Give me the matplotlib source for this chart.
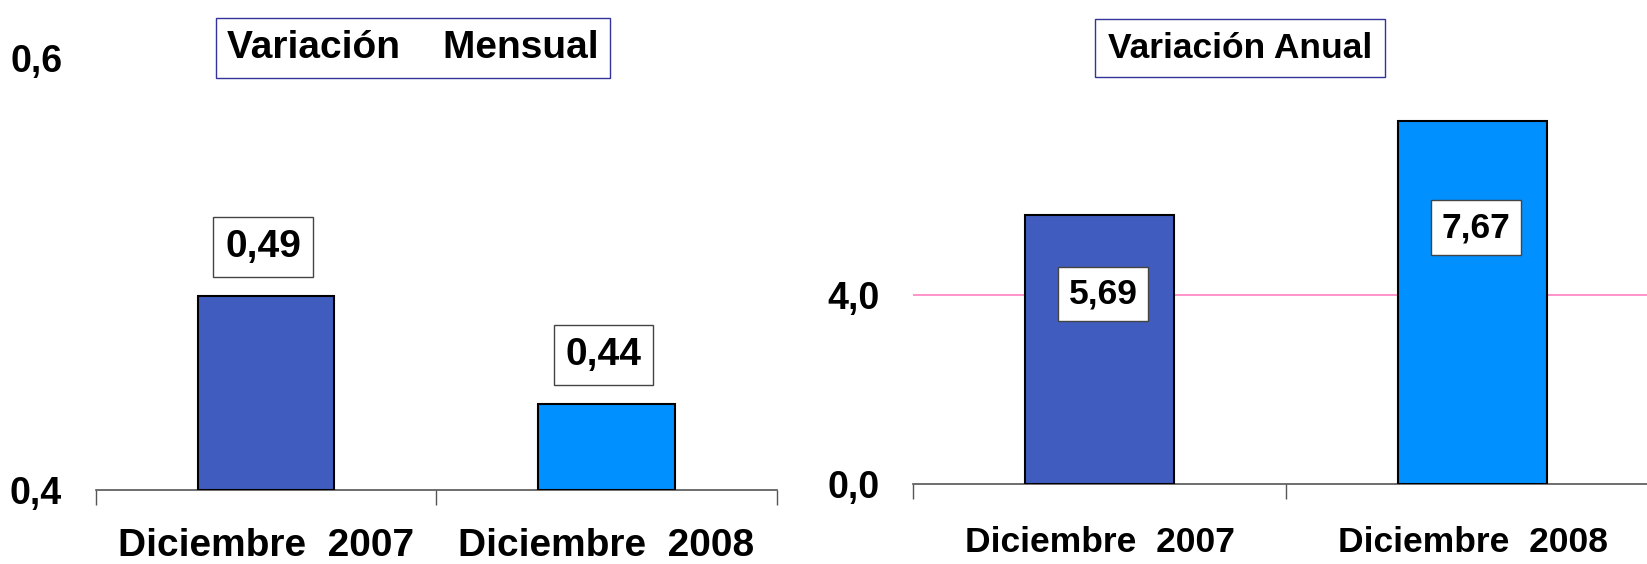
import matplotlib.pyplot as plt

plt.rcParams['font.family'] = ['Liberation Sans', 'DejaVu Sans']
plt.rcParams['font.weight'] = 'bold'

categories = ["Diciembre  2007", "Diciembre  2008"]
mensual = [0.49, 0.44]
anual = [5.69, 7.67]
mensual_labels = ["0,49", "0,44"]
anual_labels = ["5,69", "7,67"]
bar_colors = ["#405CBF", "#0090FF"]

FS_L = 28    # left chart text size
FS_R = 25.5  # right chart text size

fig = plt.figure(figsize=(16.47, 5.64), dpi=100)

ax1 = fig.add_axes([0.058, 0.1312, 0.4137, 0.766])
ax2 = fig.add_axes([0.5543, 0.1418, 0.453, 0.6667])


def style_axis(ax, ylim, yticks, ylabels, fs, xpad):
    ax.set_xlim(-0.5, 1.5)
    ax.set_ylim(*ylim)
    for s in ["left", "right", "top"]:
        ax.spines[s].set_visible(False)
    ax.spines["bottom"].set_color("#555555")
    ax.spines["bottom"].set_linewidth(1.2)
    ax.set_yticks(yticks)
    ax.set_yticklabels(ylabels, fontsize=27, fontweight="bold")
    ax.tick_params(axis="y", length=0, pad=24)
    # category boundary ticks
    ax.set_xticks([-0.5, 0.5, 1.5])
    ax.set_xticklabels([])
    ax.set_xticks([0, 1], minor=True)
    ax.set_xticklabels(categories, minor=True, fontsize=fs, fontweight="bold")
    ax.tick_params(axis="x", which="major", length=11, color="#555555", width=1)
    ax.tick_params(axis="x", which="minor", length=0, pad=xpad)


box = dict(boxstyle="square,pad=0.3", facecolor="white", edgecolor="#444444", linewidth=1)

# --- Variación Mensual ---
style_axis(ax1, (0.4, 0.6), [0.4, 0.6], ["0,4", "0,6"], FS_L, 27)
ax1.bar([0, 1], [v - 0.4 for v in mensual], bottom=0.4, width=0.4,
        color=bar_colors, edgecolor="black", linewidth=1.5, zorder=3)
for i, (v, lab) in enumerate(zip(mensual, mensual_labels)):
    ax1.annotate(lab, (i, v), xytext=(-2, 35), textcoords="offset points",
                 ha="center", va="center", fontsize=FS_L, fontweight="bold", bbox=box, zorder=4)

# --- Variación Anual ---
style_axis(ax2, (0, 7.95), [0, 4], ["0,0", "4,0"], FS_R, 30)
ax2.axhline(4, color="#FF80C0", linewidth=1.2, zorder=1)
ax2.bar([0, 1], anual, width=0.4, color=bar_colors, edgecolor="black",
        linewidth=1.5, zorder=3)
for i, (v, lab) in enumerate(zip(anual, anual_labels)):
    ax2.text(i + 0.01, v * 0.707, lab, ha="center", va="center",
             fontsize=FS_R, fontweight="bold", bbox=box, zorder=4)

fig.text(413 / 1647, 1 - 48 / 564, "Variación    Mensual", ha="center", va="center",
         fontsize=FS_L, fontweight="bold",
         bbox=dict(boxstyle="square,pad=0.3", facecolor="white", edgecolor="#333399", linewidth=1))
fig.text(1240 / 1647, 1 - 48 / 564, "Variación Anual", ha="center", va="center",
         fontsize=FS_R, fontweight="bold",
         bbox=dict(boxstyle="square,pad=0.35", facecolor="white", edgecolor="#333399", linewidth=1))

plt.savefig("out.png", dpi=100)
